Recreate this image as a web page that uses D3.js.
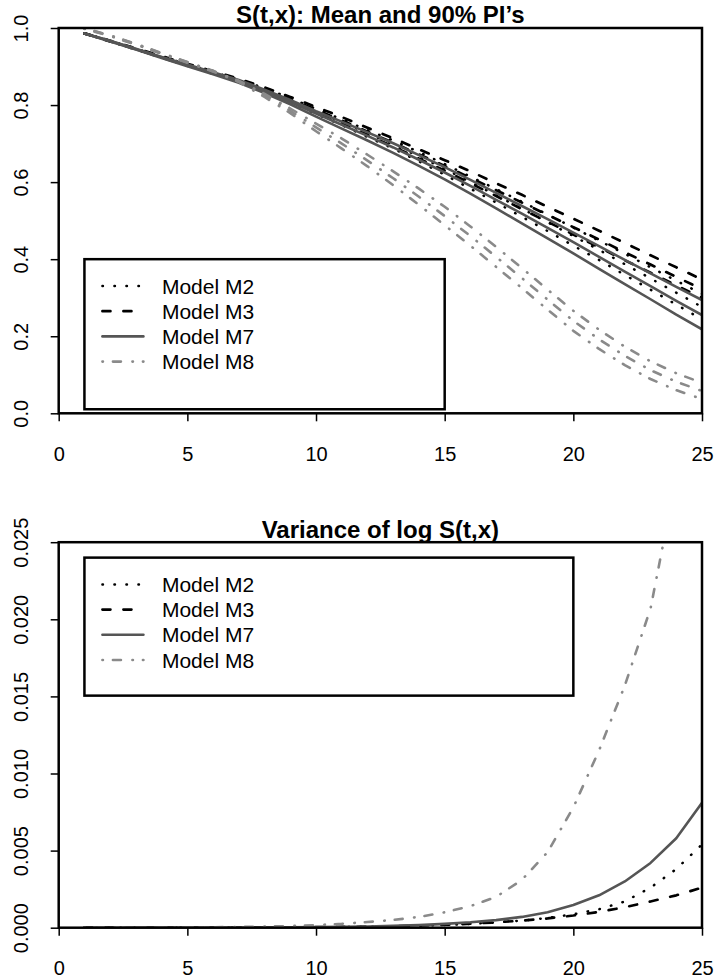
<!DOCTYPE html>
<html>
<head>
<meta charset="utf-8">
<script src="https://cdn.jsdelivr.net/npm/d3@7"></script>
<style>
body { margin: 0; background: #fff; }
svg { display: block; font-family: "Liberation Sans", Arial, Helvetica, sans-serif; }
</style>
</head>
<body>
<svg width="715" height="978"></svg>
<script>
// ages t = 1..25
var ages = [1,2,3,4,5,6,7,8,9,10,11,12,13,14,15,16,17,18,19,20,21,22,23,24,25];
var models = ['Model M2', 'Model M3', 'Model M7', 'Model M8'];

// S(t,x): lower 5%, mean, upper 95% for each model
var m2Low  = [0.986,0.965,0.944,0.923,0.902,0.881,0.860,0.836,0.808,0.777,0.748,0.717,0.687,0.654,0.619,0.583,0.547,0.510,0.473,0.435,0.398,0.359,0.321,0.282,0.244];
var m2Mean = [0.986,0.966,0.945,0.925,0.904,0.884,0.863,0.840,0.813,0.784,0.756,0.727,0.698,0.667,0.634,0.600,0.566,0.531,0.496,0.460,0.424,0.387,0.350,0.313,0.276];
var m2Up   = [0.986,0.967,0.946,0.926,0.906,0.886,0.866,0.844,0.818,0.790,0.763,0.735,0.708,0.678,0.647,0.614,0.582,0.549,0.516,0.482,0.448,0.414,0.379,0.344,0.310];

var m3Low  = [0.986,0.965,0.945,0.923,0.903,0.882,0.861,0.837,0.810,0.782,0.753,0.723,0.692,0.661,0.630,0.597,0.564,0.530,0.497,0.464,0.431,0.397,0.365,0.332,0.300];
var m3Mean = [0.986,0.966,0.946,0.925,0.905,0.885,0.864,0.841,0.815,0.788,0.760,0.731,0.702,0.672,0.642,0.611,0.579,0.547,0.515,0.483,0.451,0.418,0.386,0.354,0.322];
var m3Up   = [0.986,0.967,0.947,0.927,0.907,0.888,0.868,0.846,0.821,0.795,0.769,0.741,0.714,0.685,0.657,0.628,0.597,0.567,0.536,0.505,0.474,0.442,0.410,0.379,0.347];

var m7Low  = [0.986,0.965,0.944,0.922,0.901,0.880,0.858,0.831,0.802,0.770,0.739,0.708,0.676,0.642,0.607,0.570,0.532,0.493,0.454,0.415,0.375,0.335,0.296,0.256,0.218];
var m7Mean = [0.986,0.966,0.945,0.924,0.903,0.883,0.862,0.836,0.808,0.778,0.749,0.720,0.690,0.658,0.625,0.590,0.554,0.518,0.481,0.444,0.406,0.368,0.330,0.292,0.255];
var m7Up   = [0.986,0.967,0.946,0.925,0.905,0.885,0.865,0.840,0.813,0.784,0.757,0.729,0.701,0.670,0.639,0.606,0.572,0.538,0.504,0.469,0.434,0.398,0.363,0.328,0.294];

var m8Low  = [0.998,0.979,0.957,0.933,0.910,0.887,0.860,0.821,0.779,0.732,0.687,0.641,0.592,0.541,0.488,0.435,0.380,0.325,0.269,0.214,0.167,0.125,0.089,0.060,0.037];
var m8Mean = [0.999,0.980,0.958,0.934,0.911,0.888,0.862,0.825,0.785,0.742,0.700,0.656,0.610,0.562,0.512,0.460,0.406,0.351,0.295,0.240,0.192,0.149,0.112,0.082,0.058];
var m8Up   = [0.999,0.981,0.959,0.935,0.912,0.889,0.863,0.829,0.791,0.752,0.713,0.671,0.628,0.583,0.536,0.485,0.432,0.377,0.321,0.266,0.217,0.173,0.135,0.104,0.079];

// Variance of log S(t,x)
var var2 = [0.000001,0.000002,0.000003,0.000004,0.000006,0.000008,0.000012,0.000017,0.000024,0.000034,0.000048,0.000068,0.000095,0.00013,0.00018,0.00025,0.00034,0.00046,0.00063,0.00087,0.0012,0.0017,0.0026,0.0038,0.0054];
var var3 = [0.000001,0.000001,0.000002,0.000003,0.000005,0.000008,0.000012,0.000017,0.000025,0.000035,0.00005,0.00007,0.0001,0.00014,0.00019,0.00026,0.00035,0.00046,0.0006,0.00079,0.00102,0.00133,0.0017,0.0021,0.0026];
var var7 = [0.000001,0.000001,0.000002,0.000003,0.000005,0.000008,0.000012,0.000018,0.000026,0.000038,0.000055,0.00008,0.00012,0.00017,0.00025,0.00035,0.00049,0.0007,0.001,0.00147,0.0021,0.003,0.0042,0.0058,0.0081];
var var8 = [0.000002,0.000004,0.000007,0.000012,0.00002,0.00003,0.000045,0.00007,0.00011,0.00017,0.00025,0.00037,0.0005,0.0007,0.001,0.0014,0.002,0.0031,0.0049,0.0078,0.0115,0.0157,0.0207,0.0292,0.040];

var xTicks = [0, 5, 10, 15, 20, 25];
var survTicks = [0, 0.2, 0.4, 0.6, 0.8, 1.0];
var varTicks = [0, 0.005, 0.010, 0.015, 0.020, 0.025];

// line style per model (R lty 3, 2, 1, 4)
var styles = [
    {color: '#000000', dash: '0.5 11.5', width: 2.5},
    {color: '#000000', dash: '8 13', width: 2.7},
    {color: '#555555', dash: null, width: 2.6},
    {color: '#8a8a8a', dash: '0.5 10 8 11.5', width: 2.6}
];

var svg = d3.select('svg');

var x = d3.scaleLinear().domain([0, 25]).range([58.7, 702]);
var ySurv = d3.scaleLinear().domain([0, 1]).range([413.3, 28]);
var yVar = d3.scaleLinear().domain([0, 0.025]).range([927.7, 542.2]);

function drawPanel(p) {
    var g = svg.append('g');
    var y = p.y;
    var top = y.range()[1], bottom = y.range()[0];
    var left = x.range()[0], right = x.range()[1];

    g.append('clipPath').attr('id', p.id)
        .append('rect')
        .attr('x', left).attr('y', top)
        .attr('width', right - left).attr('height', bottom - top);

    var line = d3.line()
        .x(function(d, i) { return x(ages[i]); })
        .y(function(d) { return y(d); });

    var lines = g.append('g').attr('clip-path', 'url(#' + p.id + ')');
    p.series.forEach(function(set, m) {
        set.forEach(function(values) {
            lines.append('path')
                .datum(values)
                .attr('d', line)
                .attr('fill', 'none')
                .attr('stroke', styles[m].color)
                .attr('stroke-width', styles[m].width)
                .attr('stroke-dasharray', styles[m].dash)
                .attr('stroke-linecap', 'round')
                .attr('stroke-linejoin', 'round');
        });
    });

    // axes
    var xAxis = d3.axisBottom(x).tickValues(xTicks).tickSize(8).tickFormat(d3.format('d'));
    var xg = g.append('g').attr('transform', 'translate(0,' + bottom + ')').call(xAxis);
    xg.select('.domain').remove();
    xg.selectAll('line').attr('stroke-width', 1.5);
    xg.selectAll('text')
        .attr('dy', null).attr('y', 47.5)
        .attr('font-size', 20).attr('font-family', null).attr('fill', '#000');

    var yAxis = d3.axisLeft(y).tickValues(p.ticks).tickSize(8).tickFormat(p.format);
    var yg = g.append('g').attr('transform', 'translate(' + left + ',0)').call(yAxis);
    yg.select('.domain').remove();
    yg.selectAll('line').attr('stroke-width', 1.5);
    yg.selectAll('text')
        .attr('x', null).attr('dy', null)
        .attr('text-anchor', 'middle')
        .attr('transform', 'translate(' + (27.5 - left) + ',0) rotate(-90)')
        .attr('font-size', 20).attr('font-family', null).attr('fill', '#000');

    // box
    g.append('rect')
        .attr('x', left).attr('y', top)
        .attr('width', right - left).attr('height', bottom - top)
        .attr('fill', 'none').attr('stroke', '#000').attr('stroke-width', 2.5);

    // title
    g.append('text')
        .attr('x', (left + right) / 2).attr('y', p.titleY)
        .attr('text-anchor', 'middle')
        .attr('font-size', 24).attr('font-weight', 'bold')
        .text(p.title);

    // legend
    var lx0 = x(p.legend[0]), lx1 = x(p.legend[1]);
    var ly0 = y(p.legend[2]), ly1 = y(p.legend[3]);
    var lg = g.append('g');
    lg.append('rect')
        .attr('x', lx0).attr('y', ly0)
        .attr('width', lx1 - lx0).attr('height', ly1 - ly0)
        .attr('fill', '#fff').attr('stroke', '#000').attr('stroke-width', 2.5);

    var item = lg.selectAll('.item').data(models).enter()
        .append('g')
        .attr('class', 'item')
        .attr('transform', function(d, i) {
            return 'translate(' + [lx0, ly0 + 26.8 + i * 25.2] + ')';
        });
    item.append('line')
        .attr('x1', 18).attr('x2', 59)
        .attr('stroke', function(d, i) { return styles[i].color; })
        .attr('stroke-width', function(d, i) { return styles[i].width; })
        .attr('stroke-dasharray', function(d, i) { return styles[i].dash; })
        .attr('stroke-linecap', 'round');
    item.append('text')
        .attr('x', 77.5).attr('dy', '0.36em')
        .attr('font-size', 21)
        .text(function(d) { return d; });
}

drawPanel({
    id: 'clipSurv',
    y: ySurv,
    ticks: survTicks,
    format: d3.format('.1f'),
    title: 'S(t,x): Mean and 90% PI\u2019s',
    titleY: 23,
    legend: [1, 15, 0.4, 0.0105],
    series: [
        [m2Low, m2Mean, m2Up],
        [m3Low, m3Mean, m3Up],
        [m7Low, m7Mean, m7Up],
        [m8Low, m8Mean, m8Up]
    ]
});

drawPanel({
    id: 'clipVar',
    y: yVar,
    ticks: varTicks,
    format: d3.format('.3f'),
    title: 'Variance of log S(t,x)',
    titleY: 538,
    legend: [1, 20, 0.024, 0.01505],
    series: [[var2], [var3], [var7], [var8]]
});
</script>
</body>
</html>
